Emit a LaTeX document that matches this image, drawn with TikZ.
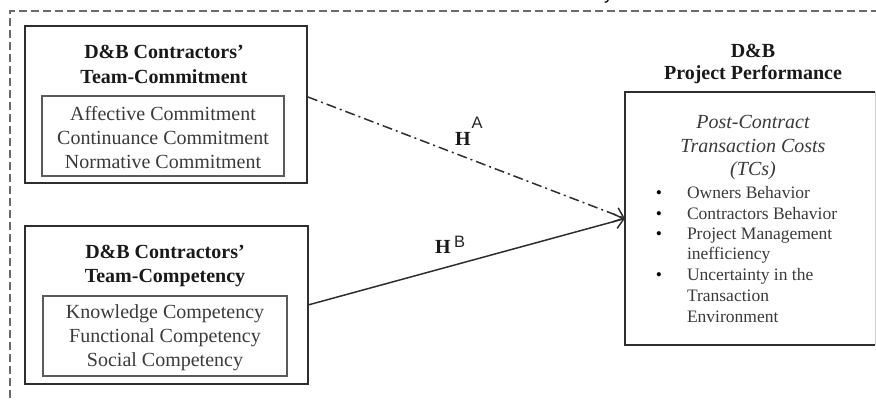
\documentclass[tikz,border=0pt]{standalone}
\usepackage{fontspec}
\setmainfont{Liberation Serif}
\newfontfamily\arialf{Liberation Sans}
\usetikzlibrary{arrows.meta}
\definecolor{boxc}{HTML}{2E2E2E}
\definecolor{innerc}{HTML}{5A5A5A}
\definecolor{txtc}{HTML}{3A3A3A}
\definecolor{dashc}{HTML}{6A6A6A}
\begin{document}
\begin{tikzpicture}[x=1pt,y=-1pt,
  every node/.style={inner sep=0pt, outer sep=0pt},
  outerbox/.style={draw=boxc, line width=2pt},
  innerbox/.style={draw=innerc, line width=1.5pt},
  titletext/.style={anchor=base, font=\fontsize{20}{25}\selectfont\bfseries, text=black!90},
  itemtext/.style={anchor=base, font=\fontsize{20}{24}\selectfont, text=txtc},
  ittext/.style={anchor=base, font=\fontsize{20}{25}\selectfont\itshape, text=txtc},
  bullettext/.style={anchor=base west, font=\fontsize{17.5}{21}\selectfont, text=txtc},
  bulletdot/.style={anchor=base, font=\fontsize{17.5}{21}\selectfont, text=black},
  hlab/.style={anchor=base west, font=\fontsize{20}{24}\selectfont\bfseries, text=black!90},
  suplab/.style={anchor=base west, font=\fontsize{16.5}{20}\selectfont\arialf, text=black!85},
  link/.style={line width=1.5pt, draw=boxc, -{Straight Barb[length=9pt, width=15pt, line width=1.5pt]}},
  frame/.style={draw=dashc, line width=1.3pt, dash pattern=on 8pt off 4pt}
]
\useasboundingbox (0,0) rectangle (876,400);

% dashed frame
\coordinate (fbl) at (10,410);
\coordinate (ftl) at (10,11);
\coordinate (ftr) at (890,11);
\draw[frame] (fbl) -- (ftl) -- (ftr);

% cropped text above
\node[anchor=base west, font=\fontsize{18}{20}\selectfont\arialf, text=black] (topfrag) at (604,-1) {y};

% top-left block
\node[outerbox, minimum width=282pt, minimum height=157pt] (tcbox) at (166,104.5) {};
\node[innerbox, minimum width=242pt, minimum height=80pt] (tcin) at (163,136) {};
\node[titletext] (tct1) at (164,58) {D\&B Contractors'};
\node[titletext] (tct2) at (164,83) {Team-Commitment};
\node[itemtext] (tci1) at (163,120) {Affective Commitment};
\node[itemtext] (tci2) at (163,144) {Continuance Commitment};
\node[itemtext] (tci3) at (163,168) {Normative Commitment};

% bottom-left block
\node[outerbox, minimum width=283pt, minimum height=158pt] (cpbox) at (166.5,305) {};
\node[innerbox, minimum width=244pt, minimum height=80pt] (cpin) at (165,336) {};
\node[titletext] (cpt1) at (165,258) {D\&B Contractors'};
\node[titletext] (cpt2) at (165,282) {Team-Competency};
\node[itemtext] (cpi1) at (165,318) {Knowledge Competency};
\node[itemtext] (cpi2) at (165,342) {Functional Competency};
\node[itemtext] (cpi3) at (165,366) {Social Competency};

% right block
\node[titletext] (ppt1) at (753,57) {D\&B};
\node[titletext] (ppt2) at (753,79) {Project Performance};
\node[minimum width=250pt, minimum height=253pt] (ppbox) at (750,218.5) {};
\draw[draw=black!20, line width=1pt] (ppbox.north east) -- (ppbox.south east);
\draw[boxc, line width=2pt] (ppbox.north east) -- (ppbox.north west) -- (ppbox.south west) -- (ppbox.south east);
\node[ittext] (ppi1) at (753,128) {Post-Contract};
\node[ittext] (ppi2) at (753,152) {Transaction Costs};
\node[ittext] (ppi3) at (753,175) {(TCs)};
\node[bulletdot] (b1) at (659,198) {•};
\node[bulletdot] (b2) at (659,219) {•};
\node[bulletdot] (b3) at (659,239) {•};
\node[bulletdot] (b4) at (659,280) {•};
\node[bullettext] (l1) at (687,198) {Owners Behavior};
\node[bullettext] (l2) at (687,219) {Contractors Behavior};
\node[bullettext] (l3) at (687,239) {Project Management};
\node[bullettext] (l3b) at (687,259) {inefficiency};
\node[bullettext] (l4) at (687,280) {Uncertainty in the};
\node[bullettext] (l4b) at (687,301) {Transaction};
\node[bullettext] (l4c) at (687,322) {Environment};

% connectors
\coordinate (ha) at (308,97);
\draw[link, dash pattern=on 10pt off 4pt on 2pt off 4pt] (ha) -- (ppbox.west);
\draw[link] (cpbox.east) -- (ppbox.west);

% hypothesis labels
\node[hlab] (hA) at (455,145) {H};
\node[suplab] (hAs) at (471.5,128.5) {A};
\node[hlab] (hB) at (435,253) {H};
\node[suplab] (hBs) at (454,247) {B};
\end{tikzpicture}
\end{document}
